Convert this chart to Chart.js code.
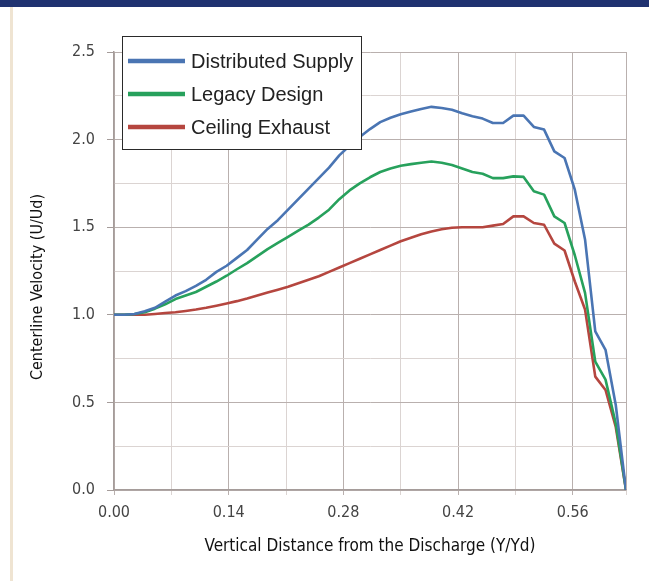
<!DOCTYPE html>
<html>
<head>
<meta charset="utf-8">
<script src="https://cdn.jsdelivr.net/npm/chart.js@4.4.1/dist/chart.umd.min.js"></script>
<style>
  html, body { margin: 0; padding: 0; background: #fff; }
  .wrap { position: relative; width: 649px; height: 581px; overflow: hidden; background: #fff; }
  .topband { position: absolute; left: 0; top: 0; width: 649px; height: 7px; background: #1f3270; }
  .sidebar { position: absolute; left: 10px; top: 7px; width: 3px; height: 574px; background: #efe4d2; }
  #chart { position: absolute; left: 0; top: 0; }
</style>
</head>
<body>
<div class="wrap">
  <canvas id="chart" width="649" height="581"></canvas>
  <div class="topband"></div>
  <div class="sidebar"></div>
</div>
<script>
// Centerline velocity profiles

// x positions (Y/Yd)
const distance = [0, 0.0125, 0.025, 0.0375, 0.05, 0.0625, 0.075, 0.0875, 0.1, 0.1125,
  0.125, 0.1375, 0.15, 0.1625, 0.175, 0.1875, 0.2, 0.2125, 0.225, 0.2375,
  0.25, 0.2625, 0.275, 0.2875, 0.3, 0.3125, 0.325, 0.3375, 0.35, 0.3625,
  0.375, 0.3875, 0.4, 0.4125, 0.425, 0.4375, 0.45, 0.4625, 0.475, 0.4875,
  0.5, 0.5125, 0.525, 0.5375, 0.55, 0.5625, 0.575, 0.5875, 0.6, 0.6125, 0.625];

// velocity ratios (U/Ud)
const distributedSupply = [1.00, 1.00, 1.005, 1.02, 1.04, 1.075, 1.11, 1.135, 1.165, 1.20,
  1.245, 1.28, 1.325, 1.37, 1.43, 1.49, 1.54, 1.60, 1.66, 1.72,
  1.78, 1.84, 1.91, 1.965, 2.015, 2.06, 2.10, 2.125, 2.145, 2.16,
  2.175, 2.187, 2.18, 2.17, 2.15, 2.133, 2.12, 2.095, 2.095, 2.137,
  2.137, 2.072, 2.057, 1.933, 1.895, 1.714, 1.43, 0.905, 0.80, 0.485, 0];

const legacyDesign = [1.00, 1.00, 1.005, 1.015, 1.035, 1.06, 1.09, 1.11, 1.13, 1.16,
  1.19, 1.223, 1.26, 1.295, 1.335, 1.375, 1.41, 1.445, 1.48, 1.515,
  1.555, 1.60, 1.66, 1.71, 1.75, 1.785, 1.815, 1.835, 1.851, 1.86,
  1.868, 1.875, 1.868, 1.855, 1.835, 1.815, 1.805, 1.78, 1.78, 1.79,
  1.787, 1.705, 1.686, 1.562, 1.524, 1.34, 1.125, 0.733, 0.63, 0.38, 0];

const ceilingExhaust = [1.00, 1.00, 1.00, 1.00, 1.005, 1.01, 1.015, 1.022, 1.03, 1.04,
  1.052, 1.065, 1.078, 1.093, 1.11, 1.127, 1.143, 1.16, 1.18, 1.20,
  1.22, 1.245, 1.27, 1.295, 1.32, 1.345, 1.37, 1.395, 1.42, 1.44,
  1.46, 1.476, 1.488, 1.497, 1.50, 1.50, 1.50, 1.509, 1.518, 1.562,
  1.562, 1.524, 1.514, 1.406, 1.367, 1.19, 1.03, 0.647, 0.571, 0.36, 0];

const seriesNames = ['Distributed Supply', 'Legacy Design', 'Ceiling Exhaust'];

// axis ticks
const xGridValues = [0, 0.07, 0.14, 0.21, 0.28, 0.35, 0.42, 0.49, 0.56, 0.625];
const xTickValues = [0, 0.14, 0.28, 0.42, 0.56];
const xTickLabels = ['0.00', '0.14', '0.28', '0.42', '0.56'];
const yTickValues = [0, 0.5, 1.0, 1.5, 2.0, 2.5];
const yTickLabels = ['0.0', '0.5', '1.0', '1.5', '2.0', '2.5'];

const xTitle = 'Vertical Distance from the Discharge (Y/Yd)';
const yTitle = 'Centerline Velocity (U/Ud)';

const colors = ['#4a75b3', '#27a15c', '#b5463f'];

const narrowFont = '"DejaVu Sans Condensed", "Liberation Sans Narrow", sans-serif';

function findLabel(value, values, labels) {
    const i = values.findIndex(v => Math.abs(v - value) < 1e-6);
    return i >= 0 ? labels[i] : '';
}

function makePoints(series) {
    return distance.map((x, i) => ({ x: x, y: series[i] }));
}

// legend box over the plot (top-left) and the y axis title, which sits
// a little below the middle of the axis in the original
const overlays = {
    id: 'overlays',
    afterDatasetsDraw(chart) {
        const ctx = chart.ctx;
        ctx.save();
        ctx.fillStyle = '#fff';
        ctx.fillRect(122.5, 36.5, 239, 113);
        ctx.strokeStyle = '#2a2a2a';
        ctx.lineWidth = 1;
        ctx.strokeRect(122.5, 36.5, 239, 113);
        ctx.font = '20px "Liberation Sans", Arial, sans-serif';
        ctx.textBaseline = 'middle';
        chart.data.datasets.forEach((ds, i) => {
            const y = 61 + i * 33;
            ctx.strokeStyle = ds.borderColor;
            ctx.lineWidth = 4.5;
            ctx.beginPath();
            ctx.moveTo(128, y);
            ctx.lineTo(185, y);
            ctx.stroke();
            ctx.fillStyle = '#222';
            ctx.fillText(ds.label, 191, y + 1);
        });

        // y title
        ctx.translate(38, 287);
        ctx.rotate(-Math.PI / 2);
        ctx.font = '16px ' + narrowFont;
        ctx.fillStyle = '#111';
        ctx.textAlign = 'center';
        ctx.fillText(yTitle, 0, 0);
        ctx.restore();
    }
};

const gridColor = (isMajor) => isMajor ? '#b9b0ae' : '#dbd4d2';

new Chart(document.getElementById('chart'), {
    type: 'line',
    data: {
        datasets: [distributedSupply, legacyDesign, ceilingExhaust].map((s, i) => ({
            label: seriesNames[i],
            data: makePoints(s),
            borderColor: colors[i],
            backgroundColor: colors[i],
            borderWidth: 2.6,
            pointRadius: 0,
            tension: 0,
            fill: false,
            borderJoinStyle: 'round'
        }))
    },
    options: {
        responsive: false,
        animation: false,
        devicePixelRatio: 1,
        layout: { padding: { top: 52, right: 23, left: 0, bottom: 0 } },
        plugins: {
            legend: { display: false },
            tooltip: { enabled: false }
        },
        scales: {
            x: {
                type: 'linear',
                min: 0,
                max: 0.625,
                afterBuildTicks: (scale) => {
                    scale.ticks = xGridValues.map(v => ({ value: v }));
                },
                afterFit: (scale) => { scale.height = 91; },
                ticks: {
                    autoSkip: false,
                    maxRotation: 0,
                    padding: 8,
                    color: '#444',
                    font: { family: narrowFont, size: 16 },
                    callback: (value) => findLabel(value, xTickValues, xTickLabels)
                },
                grid: {
                    color: (c) => gridColor(xTickValues.some(v => Math.abs(v - c.tick.value) < 1e-6) || c.tick.value > 0.6),
                    tickColor: (c) => gridColor(xTickValues.some(v => Math.abs(v - c.tick.value) < 1e-6)),
                    tickLength: 5,
                    lineWidth: 1
                },
                border: { display: true, color: '#a59c9a', width: 1.5 },
                title: {
                    display: true,
                    text: xTitle,
                    color: '#111',
                    font: { family: narrowFont, size: 17 },
                    padding: { top: 0, bottom: 24 }
                }
            },
            y: {
                min: 0,
                max: 2.5,
                afterFit: (scale) => { scale.width = 114; },
                ticks: {
                    stepSize: 0.25,
                    padding: 12,
                    color: '#444',
                    font: { family: narrowFont, size: 16 },
                    callback: (value) => findLabel(value, yTickValues, yTickLabels)
                },
                grid: {
                    color: (c) => gridColor(yTickValues.some(v => Math.abs(v - c.tick.value) < 1e-6)),
                    tickColor: (c) => yTickValues.some(v => Math.abs(v - c.tick.value) < 1e-6) ? '#a59c9a' : 'rgba(0,0,0,0)',
                    tickLength: 7,
                    lineWidth: 1
                },
                border: { display: true, color: '#a59c9a', width: 1.5 },
                title: { display: false }
            }
        }
    },
    plugins: [overlays]
});
</script>
</body>
</html>
